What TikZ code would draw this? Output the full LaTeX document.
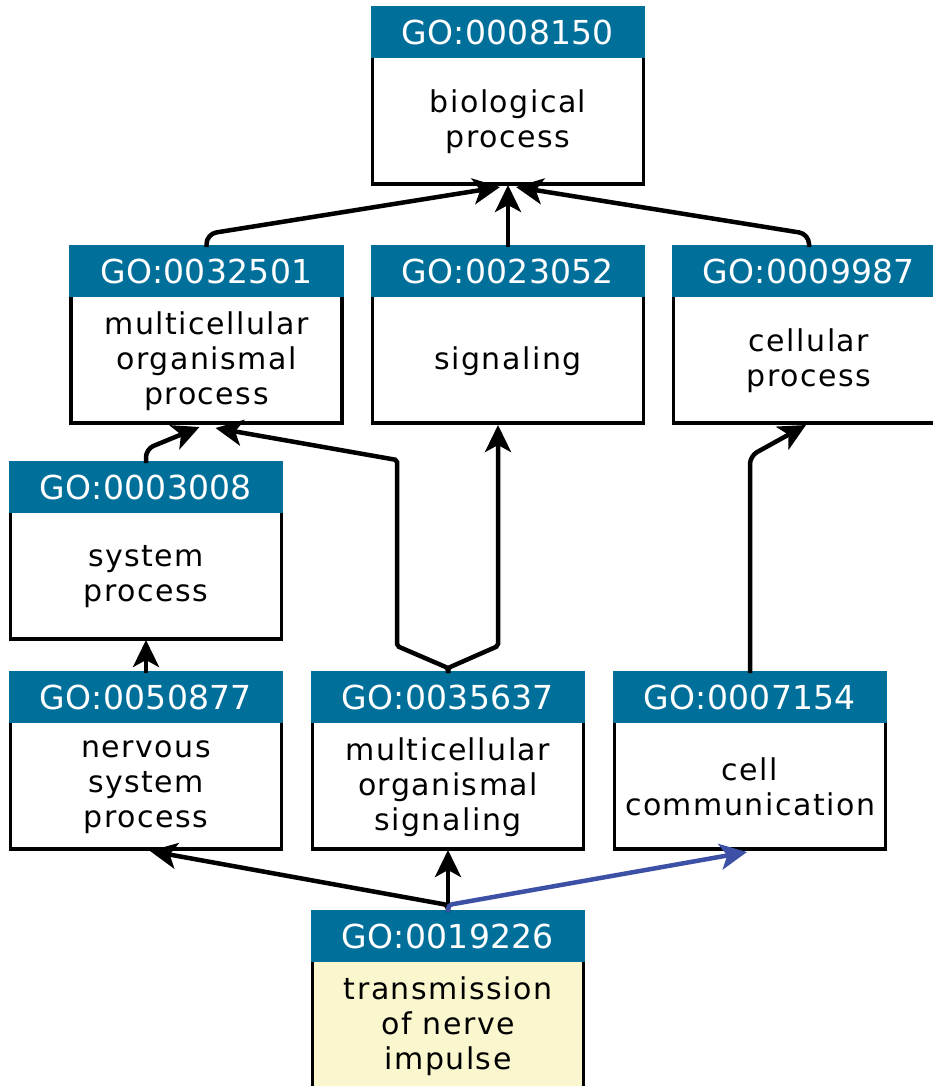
\documentclass[tikz,border=0pt]{standalone}
\usepackage{fontspec}
\newfontfamily\headfont[LetterSpace=1]{DejaVu Sans}
\newfontfamily\bodyfont[LetterSpace=5]{DejaVu Sans}
\usetikzlibrary{arrows.meta,calc}
\definecolor{headblue}{RGB}{0,112,155}
\definecolor{edgeblue}{RGB}{60,80,165}
\definecolor{focusfill}{RGB}{250,247,206}

\tikzset{
  termbox/.style={draw=black, line width=3.5pt, minimum width=271pt, minimum height=176pt,
    anchor=north, inner sep=0pt, outer sep=0pt},
  termhead/.style={fill=headblue, text=white, minimum width=274.5pt, minimum height=51.75pt,
    anchor=north, inner sep=0pt, outer sep=0pt, yshift=1.75pt,
    font=\headfont\fontsize{33}{33}\selectfont},
  termtext/.style={align=center, inner sep=0pt, font=\bodyfont\fontsize{30}{35}\selectfont},
  isa/.style={line width=4.5pt, rounded corners=4pt,
    -{Stealth[length=27pt,width=26pt,inset=7pt]}},
}

% one GO term: [fill] name, x, y (top centre), identifier, label
\newcommand\goterm[6][white]{%
  \node[termbox, fill=#1] (#2) at (#3,#4) {};
  \node[termhead] (#2h) at (#2.north) {#5};
  \node[termtext] (#2t) at ($(#2.north)+(0,114)$) {#6};
}

\begin{document}
\begin{tikzpicture}[x=1pt, y=-1pt]
  \useasboundingbox (0,0) rectangle (933,1086);
  \clip (0,0) rectangle (933,1086);

  \goterm{n8150}{508}{8}{GO:0008150}{biological\\process}
  \goterm{n32501}{206.5}{247}{GO:0032501}{multicellular\\organismal\\process}
  \goterm{n23052}{508}{247}{GO:0023052}{signaling}
  \goterm{n9987}{809}{247}{GO:0009987}{cellular\\process}
  \goterm{n3008}{146}{463}{GO:0003008}{system\\process}
  \goterm{n50877}{146}{673}{GO:0050877}{nervous\\system\\process}
  \goterm{n35637}{448}{673}{GO:0035637}{multicellular\\organismal\\signaling}
  \goterm{n7154}{750}{673}{GO:0007154}{cell\\communication}
  \goterm[focusfill]{n19226}{448}{912}{GO:0019226}{transmission\\of nerve\\impulse}

  % is_a relations
  \draw[isa, rounded corners=10pt] (n32501.north) -- ($(n32501.north)+(0,-13)$) -- ($(n8150.south)+(-8,3)$);
  \draw[isa] (n23052.north) -- ($(n8150.south)+(0,1)$);
  \draw[isa, rounded corners=10pt] (n9987.north) -- ($(n9987.north)+(0,-13)$) -- ($(n8150.south)+(8,3)$);
  \draw[isa, rounded corners=8pt] (n3008.north) -- ($(n3008.north)+(0,-14)$) -- ($(n32501.south)+(-7,4)$);
  \draw[isa, rounded corners=2pt] (n35637.north) -- ($(n35637.north)+(0,-5)$) -- ($(n35637.north)+(-51,-27)$)
    -- ($(n35637.north)+(-51,-213)$) -- ($(n32501.south)+(9,5)$);
  \draw[isa, rounded corners=2pt] (n35637.north) -- ($(n35637.north)+(0,-5)$) -- ($(n35637.north)+(50,-27)$)
    -- ($(n23052.south)+(-10,2)$);
  \draw[isa, rounded corners=8pt] (n7154.north) -- ($(n7154.north)+(0,-217)$) -- ($(n9987.south)+(-3,2)$);
  \draw[isa] (n50877.north) -- ($(n3008.south)+(0,1)$);
  \draw[isa] (n19226.north) -- ($(n19226.north)+(0,-7)$) -- ($(n50877.south)+(4,2)$);
  \draw[isa] (n19226.north) -- ($(n35637.south)+(0,1)$);
  \draw[isa, draw=edgeblue] (n19226.north) -- ($(n19226.north)+(0,-7)$) -- ($(n7154.south)+(-3,3)$);
\end{tikzpicture}
\end{document}
